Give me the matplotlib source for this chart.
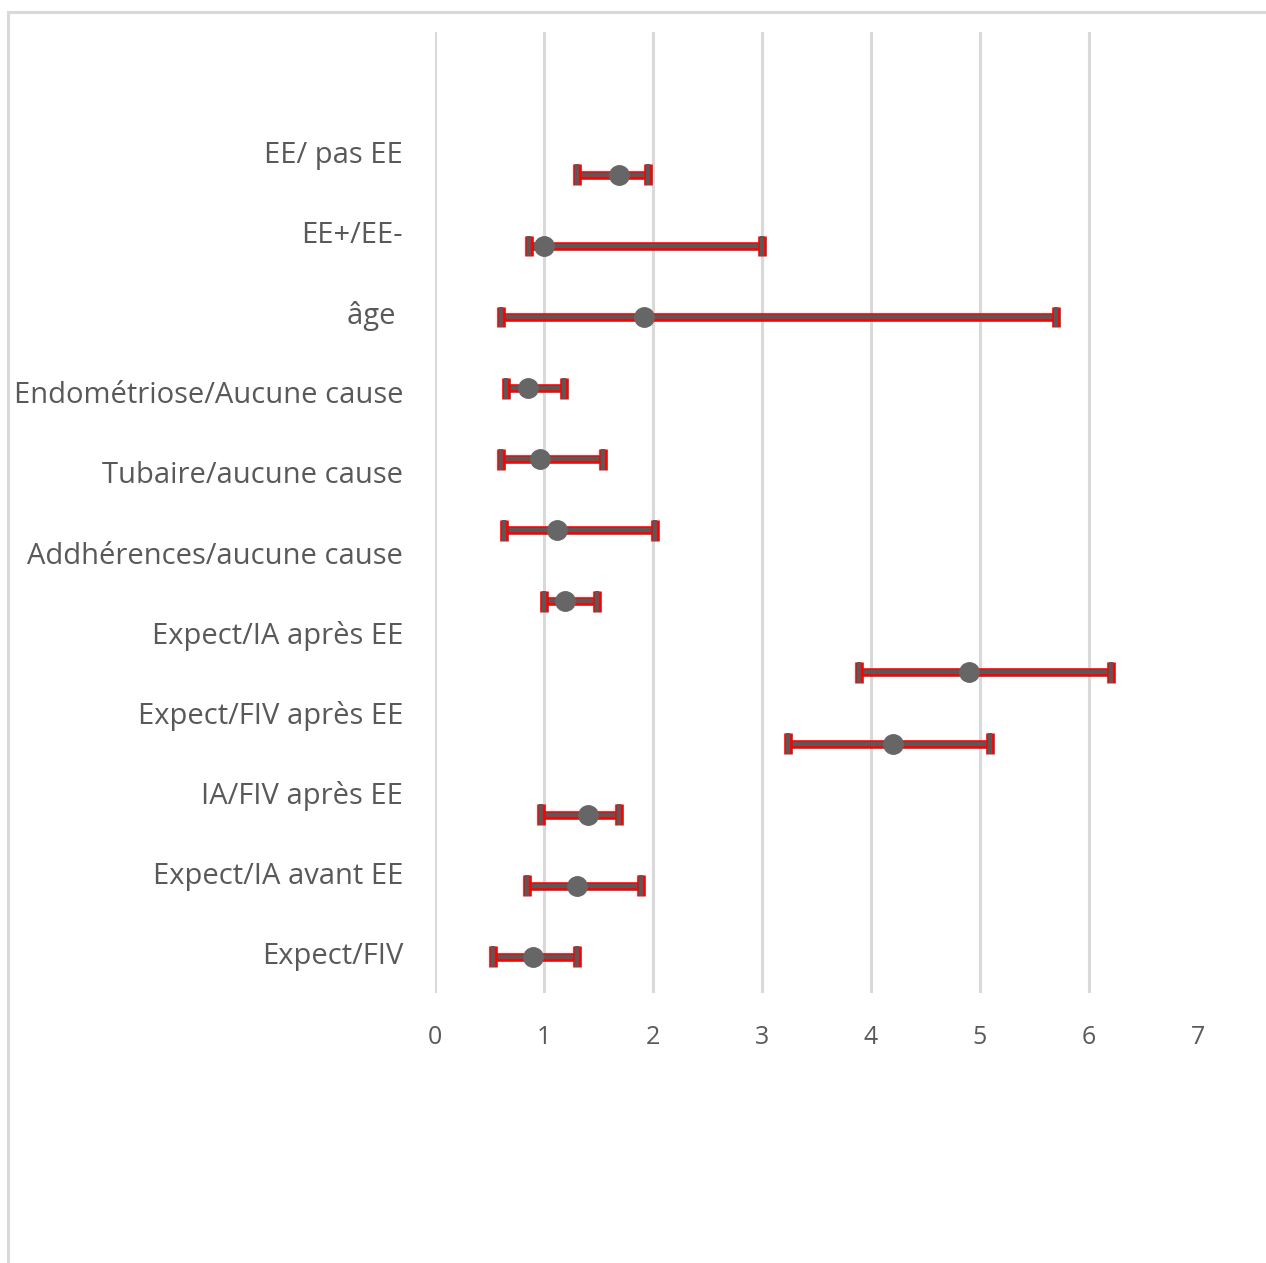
import numpy as np
import matplotlib
matplotlib.use("Agg")
import matplotlib.pyplot as plt
import matplotlib.patheffects as pe
from matplotlib.patches import Rectangle

# category labels (top slot is empty, as in the original sheet)
labels = ["", "EE/ pas EE", "EE+/EE-", "âge ", "Endométriose/Aucune cause",
          "Tubaire/aucune cause", "Addhérences/aucune cause", "Expect/IA après EE",
          "Expect/FIV après EE", "IA/FIV après EE", "Expect/IA avant EE", "Expect/FIV"]

# odds ratios with confidence interval, top to bottom
orr = [1.69, 1.00, 1.92, 0.85, 0.96, 1.12, 1.19, 4.90, 4.20, 1.40, 1.30, 0.90]
ci_low = [1.30, 0.86, 0.61, 0.65, 0.61, 0.63, 1.00, 3.89, 3.24, 0.975, 0.84, 0.53]
ci_high = [1.95, 3.00, 5.70, 1.18, 1.54, 2.02, 1.49, 6.20, 5.09, 1.69, 1.89, 1.30]
ypos = np.arange(len(orr), 0, -1)

grey = "#595959"

fig = plt.figure(figsize=(12.66, 12.63), dpi=100)
W, H = 1266, 1263
ax = fig.add_axes([435 / W, 1 - 993 / H, (1198 - 435) / W, (993 - 32) / H])

# chart border
fig.patches.append(Rectangle((8 / W, -0.05), 1.2, 1 - 12 / H + 0.05, transform=fig.transFigure,
                             fill=False, edgecolor="#d9d9d9", linewidth=2.2))

# gridlines
for gx in range(0, 7):
    ax.axvline(gx, color="#d9d9d9", linewidth=2.2, zorder=0)

err = [np.array(orr) - np.array(ci_low), np.array(ci_high) - np.array(orr)]
eb = ax.errorbar(orr, ypos, xerr=err, fmt="none", ecolor=grey, elinewidth=3.2,
                 capsize=7.5, capthick=3.2, zorder=2)
for art in list(eb.lines[1]) + list(eb.lines[2]):
    art.set_path_effects([pe.Stroke(linewidth=6.2, foreground="red"), pe.Normal()])
ax.plot(orr, ypos, "o", color="#666666", markersize=14, zorder=3, linestyle="none")

ax.set_xlim(0, 7)
ax.set_ylim(0.49, 14.01)
ax.set_xticks(range(0, 8))
ax.set_yticks([])
for s in ax.spines.values():
    s.set_visible(False)
ax.tick_params(axis="x", length=0, pad=23, labelsize=18, labelcolor=grey)
for t in ax.get_xticklabels():
    t.set_fontfamily("Open Sans")

# category axis on the left
lab = ax.twinx()
lab.yaxis.tick_left()
lab.set_ylim(len(labels), 0)
lab.set_yticks(np.arange(len(labels)) + 0.5)
lab.set_yticklabels(labels, fontfamily="Open Sans", fontsize=21, color=grey)
lab.tick_params(axis="y", length=0, pad=23)
for s in lab.spines.values():
    s.set_visible(False)

fig.savefig("out.png", dpi=100)
